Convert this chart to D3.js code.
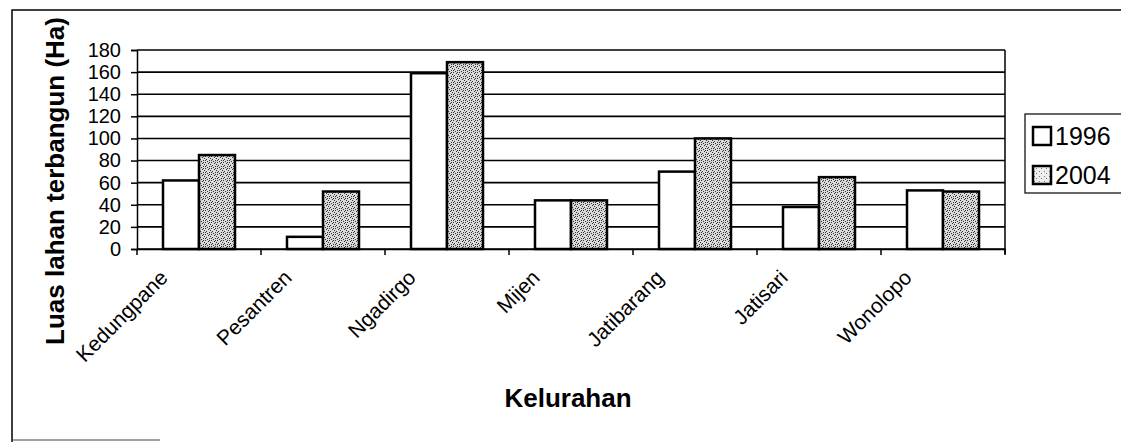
<!DOCTYPE html>
<html>
<head>
<meta charset="utf-8">
<script src="https://cdn.jsdelivr.net/npm/d3@7"></script>
<style>
  body { margin: 0; background: #fff; }
  text { font-family: "Liberation Sans", Arial, sans-serif; fill: #000; }
</style>
</head>
<body>
<div id="chart"></div>
<script>
const kelurahan = ["Kedungpane", "Pesantren", "Ngadirgo", "Mijen", "Jatibarang", "Jatisari", "Wonolopo"];
const tahun = ["1996", "2004"];
const luas1996 = [62, 11, 159, 44, 70, 38, 53];
const luas2004 = [85, 52, 169, 44, 100, 65, 52];
const yTicks = [0, 20, 40, 60, 80, 100, 120, 140, 160, 180];

const W = 1121, H = 442;
const plot = { left: 137, top: 50, right: 1005, bottom: 249 };

const svg = d3.select("#chart").append("svg")
    .attr("width", W)
    .attr("height", H);

// stipple texture for 2004 bars
const defs = svg.append("defs");
const pat = defs.append("pattern")
    .attr("id", "stipple")
    .attr("patternUnits", "userSpaceOnUse")
    .attr("width", 6).attr("height", 6);
pat.append("rect").attr("width", 6).attr("height", 6).attr("fill", "#dadada");
[[0,0],[3,1],[1,3],[4,4],[2,5],[5,2],[0,4],[4,0]].forEach(function(p) {
  pat.append("rect").attr("x", p[0]).attr("y", p[1])
     .attr("width", 1).attr("height", 1).attr("fill", "#333");
});
const patL = defs.append("pattern")
    .attr("id", "stippleLight")
    .attr("patternUnits", "userSpaceOnUse")
    .attr("width", 5).attr("height", 5);
patL.append("rect").attr("width", 5).attr("height", 5).attr("fill", "#eee");
[[1,1],[3,3]].forEach(function(p) {
  patL.append("rect").attr("x", p[0]).attr("y", p[1])
     .attr("width", 1).attr("height", 1).attr("fill", "#777");
});

// chart border
svg.append("path")
    .attr("d", "M12,442 L12,10 L1121,10")
    .attr("fill", "none")
    .attr("stroke", "#000")
    .attr("stroke-width", 1.5);
svg.append("line")
    .attr("x1", 12).attr("x2", 160).attr("y1", 440).attr("y2", 440)
    .attr("stroke", "#444").attr("stroke-width", 1);

const x0 = d3.scaleBand()
    .domain(kelurahan)
    .range([plot.left, plot.right]);

const barW = 36;

const y = d3.scaleLinear()
    .domain([0, 180])
    .range([plot.bottom, plot.top]);

// gridlines
svg.append("g")
  .selectAll("line")
  .data(yTicks)
  .join("line")
    .attr("x1", plot.left).attr("x2", plot.right)
    .attr("y1", d => y(d)).attr("y2", d => y(d))
    .attr("stroke", "#000")
    .attr("stroke-width", 1.6);

// right border of plot area
svg.append("line")
    .attr("x1", plot.right).attr("x2", plot.right)
    .attr("y1", plot.top).attr("y2", plot.bottom + 5)
    .attr("stroke", "#000").attr("stroke-width", 1.5);

// y axis
const yAxis = svg.append("g")
    .attr("transform", "translate(" + plot.left + ",0)")
    .call(d3.axisLeft(y).tickValues(yTicks).tickSize(6).tickPadding(10));
yAxis.select(".domain").attr("stroke-width", 1.5);
yAxis.selectAll(".tick line").attr("stroke-width", 1.5);
yAxis.selectAll(".tick text")
    .attr("font-size", 20)
    .style("font-family", "'Liberation Sans', Arial, sans-serif");

// x axis
const xAxis = svg.append("g")
    .attr("transform", "translate(0," + plot.bottom + ")")
    .call(d3.axisBottom(x0).tickSize(0).tickFormat(""));
xAxis.select(".domain").attr("stroke-width", 1.5);
svg.append("g")
  .selectAll("line")
  .data(kelurahan.concat(["_end"]))
  .join("line")
    .attr("x1", (d, i) => plot.left + i * x0.bandwidth())
    .attr("x2", (d, i) => plot.left + i * x0.bandwidth())
    .attr("y1", plot.bottom).attr("y2", plot.bottom + 6)
    .attr("stroke", "#000").attr("stroke-width", 1.5);

// bars
const rows = kelurahan.map((k, i) => ({ k: k, v: [luas1996[i], luas2004[i]] }));
const groups = svg.append("g")
  .selectAll("g")
  .data(rows)
  .join("g")
    .attr("transform", d => "translate(" + (x0(d.k) + x0.bandwidth() / 2 - barW) + ",0)");

groups.selectAll("rect")
  .data(d => d.v)
  .join("rect")
    .attr("x", (d, i) => i * barW)
    .attr("y", d => y(d))
    .attr("width", barW)
    .attr("height", d => y(0) - y(d))
    .attr("fill", (d, i) => i === 0 ? "#fff" : "url(#stipple)")
    .attr("stroke", "#000")
    .attr("stroke-width", 2.5);

// category labels
svg.append("g")
  .selectAll("text")
  .data(kelurahan)
  .join("text")
    .attr("transform", d => "translate(" + (x0(d) + x0.bandwidth() / 2 - 30) + "," + (plot.bottom + 30) + ") rotate(-45)")
    .attr("text-anchor", "end")
    .attr("font-size", 21)
    .text(d => d);

// axis titles
svg.append("text")
    .attr("transform", "translate(64,181) rotate(-90)")
    .attr("text-anchor", "middle")
    .attr("font-size", 26)
    .attr("font-weight", "bold")
    .text("Luas lahan terbangun (Ha)");

svg.append("text")
    .attr("x", 568).attr("y", 407)
    .attr("text-anchor", "middle")
    .attr("font-size", 26)
    .attr("font-weight", "bold")
    .text("Kelurahan");

// legend
const lg = svg.append("g").attr("transform", "translate(1025,114)");
lg.append("rect")
    .attr("width", 110).attr("height", 79)
    .attr("fill", "#fff").attr("stroke", "#000").attr("stroke-width", 1.2);
const items = lg.selectAll("g")
  .data(tahun)
  .join("g")
    .attr("transform", (d, i) => "translate(8," + (22 + i * 39) + ")");
items.append("rect")
    .attr("x", 0).attr("y", -9)
    .attr("width", 18).attr("height", 18)
    .attr("fill", (d, i) => i === 0 ? "#fff" : "url(#stippleLight)")
    .attr("stroke", "#000").attr("stroke-width", 2.5);
items.append("text")
    .attr("x", 22).attr("y", 9)
    .attr("font-size", 25)
    .text(d => d);
</script>
</body>
</html>
